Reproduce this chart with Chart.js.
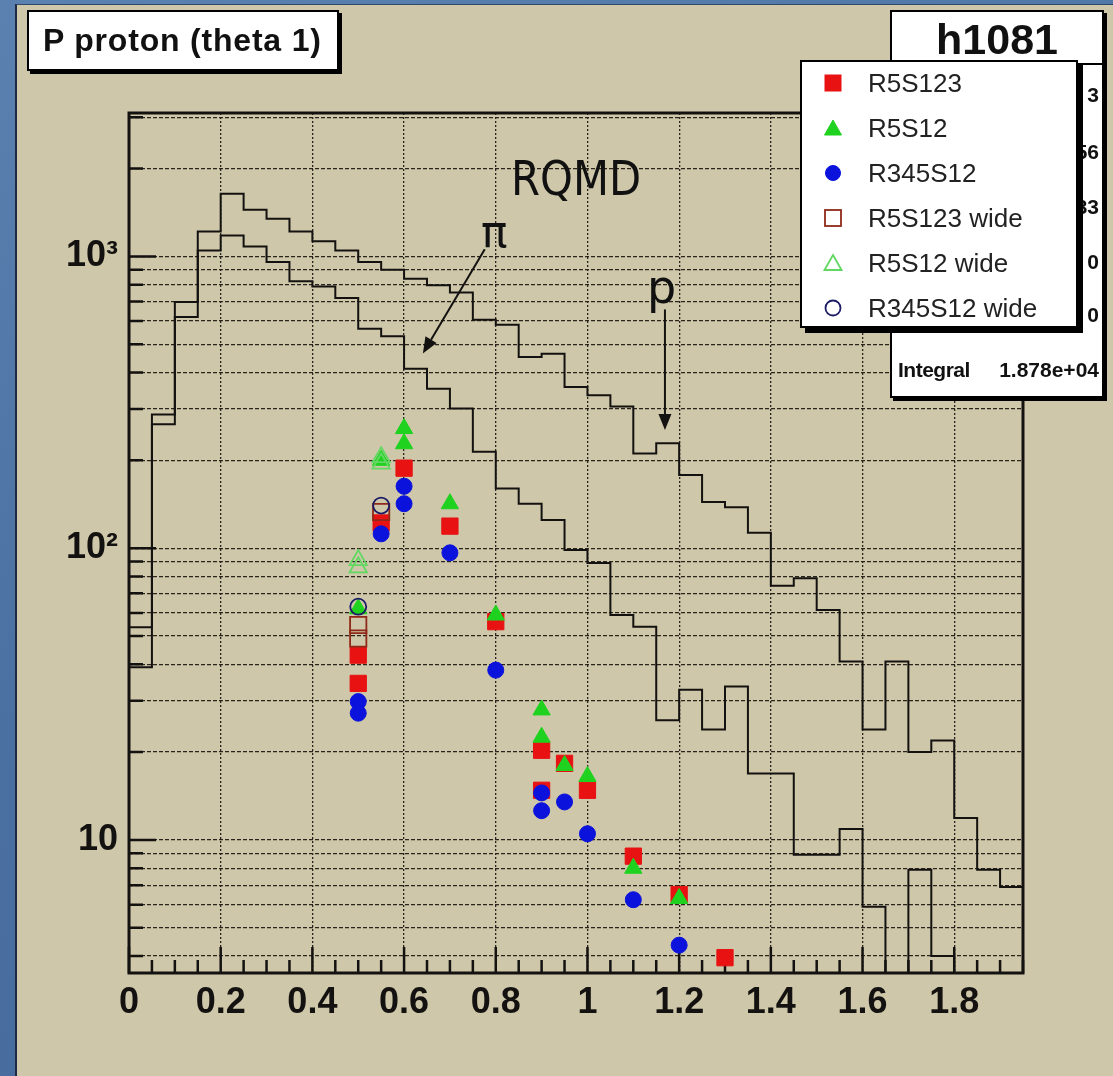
<!DOCTYPE html>
<html>
<head>
<meta charset="utf-8">
<title>P proton (theta 1)</title>
<script src="https://cdn.jsdelivr.net/npm/chart.js@4.4.1/dist/chart.umd.min.js"></script>
<style>
html,body{margin:0;padding:0;}
body{width:1113px;height:1076px;position:relative;overflow:hidden;
  background:linear-gradient(160deg,#5b81b1 0%,#4a70a1 50%,#44699a 100%);
  font-family:"Liberation Sans",Arial,Helvetica,sans-serif;}
#panel{position:absolute;left:15px;top:4px;right:0;bottom:0;background:#cec7a9;
  border-left:2px solid #1e2a44;border-top:1px solid #33476b;}
canvas{position:absolute;left:0;top:0;}
.box{position:absolute;background:#fff;border:2px solid #000;box-sizing:border-box;color:#111;}
#title{left:27px;top:10px;width:312px;height:61px;box-shadow:3px 3px 0 #000;
  font-weight:bold;font-size:32px;line-height:57px;padding-left:14px;letter-spacing:0.8px;white-space:nowrap;}
#stats{left:890px;top:10px;width:214px;height:388px;box-shadow:3px 3px 0 #000;}
#stats .hd{position:absolute;left:0;right:0;top:0;height:51px;border-bottom:2px solid #000;
  text-align:center;font-weight:bold;font-size:43px;line-height:54px;}
#stats .v{position:absolute;right:3px;font-weight:bold;font-size:21px;line-height:24px;white-space:nowrap;}
#stats .k{position:absolute;left:6px;font-weight:bold;font-size:21px;line-height:24px;letter-spacing:-0.5px;}
#legend{left:800px;top:60px;width:278px;height:268px;box-shadow:5px 5px 0 #000;}
.row{position:absolute;left:0;width:270px;height:40px;}
.row svg{position:absolute;left:21px;top:10px;}
.row span{position:absolute;left:66px;top:0;font-size:26px;line-height:40px;color:#222;white-space:nowrap;}
.note{position:absolute;font-family:"DejaVu Sans",Verdana,sans-serif;color:#111;line-height:1;white-space:nowrap;}
#rqmd{left:511px;top:154px;font-size:48px;transform:scaleX(0.87);transform-origin:0 0;}
#pi{left:481px;top:210px;font-size:44px;}
#pp{left:647px;top:264px;font-size:46px;}
</style>
</head>
<body>
<div id="panel"></div>
<canvas id="c" width="1113" height="1076"></canvas>
<div class="note" id="rqmd">RQMD</div>
<div class="note" id="pi">π</div>
<div class="note" id="pp">p</div>
<div class="box" id="title">P proton (theta 1)</div>
<div class="box" id="stats">
  <div class="hd">h1081</div>
  <div class="v" style="top:71px">3</div>
  <div class="v" style="top:128px">56</div>
  <div class="v" style="top:183px">33</div>
  <div class="v" style="top:238px">0</div>
  <div class="v" style="top:291px">0</div>
  <div class="k" style="top:346px">Integral</div>
  <div class="v" style="top:346px">1.878e+04</div>
</div>
<div class="box" id="legend"></div>
<script>
// ---------------------------
// DATA
// ---------------------------
// histogram bin edges (0.05 wide)
const BIN_EDGES = [0, 0.05, 0.1, 0.15, 0.2, 0.25, 0.3, 0.35, 0.4, 0.45,
  0.5, 0.55, 0.6, 0.65, 0.7, 0.75, 0.8, 0.85, 0.9, 0.95,
  1.0, 1.05, 1.1, 1.15, 1.2, 1.25, 1.3, 1.35, 1.4, 1.45,
  1.5, 1.55, 1.6, 1.65, 1.7, 1.75, 1.8, 1.85, 1.9, 1.95];

// RQMD histograms (counts per bin)
const RQMD_P = [53.6, 287, 697, 1218, 1639, 1445, 1346, 1218, 1126, 1048,
  956, 900, 838, 796, 752, 607, 583, 452, 464, 357,
  334, 306, 211, 229, 178, 144, 138, 113, 74.3, 78.9,
  61.4, 40.9, 23.9, 40.9, 20.0, 21.9, 11.9, 7.9, 6.9];
const RQMD_PI = [39.1, 266, 620, 1048, 1180, 1082, 956, 821, 789, 720,
  565, 532, 412, 352, 301, 214, 160, 142, 125, 98.5,
  89, 59, 53.8, 25.7, 32.7, 23.9, 33.6, 16.9, 16.9, 8.9,
  8.9, 10.9, 5.9, 0, 7.9, 4.0, 0, 0, 0];

// measured points
const R5S123_X = [0.5, 0.5, 0.55, 0.6, 0.7, 0.8, 0.9, 0.9, 0.95, 1.0, 1.1, 1.2, 1.3];
const R5S123_Y = [43, 34.4, 122, 188, 119, 56, 20.3, 14.8, 18.3, 14.8, 8.8, 6.5, 3.95];
const R5S12_X = [0.5, 0.55, 0.6, 0.6, 0.7, 0.8, 0.9, 0.9, 0.95, 1.0, 1.1, 1.2];
const R5S12_Y = [62, 200, 257, 228, 142, 59, 27.9, 22.5, 18, 16.5, 8.0, 6.3];
const R345S12_X = [0.5, 0.5, 0.55, 0.6, 0.6, 0.7, 0.8, 0.9, 0.9, 0.95, 1.0, 1.1, 1.2];
const R345S12_Y = [29.8, 27.2, 112, 163, 142, 96.4, 38.2, 14.5, 12.6, 13.5, 10.5, 6.24, 4.36];
const R5S123W_X = [0.5, 0.5, 0.55];
const R5S123W_Y = [54.5, 49, 133];
const R5S12W_X = [0.5, 0.5, 0.55, 0.55];
const R5S12W_Y = [91, 86, 205, 195];
const R345S12W_X = [0.5, 0.55];
const R345S12W_Y = [63, 140];

const SERIES_NAMES = ["R5S123", "R5S12", "R345S12", "R5S123 wide", "R5S12 wide", "R345S12 wide"];

// axes
const X_TICKS = [0, 0.2, 0.4, 0.6, 0.8, 1.0, 1.2, 1.4, 1.6, 1.8];
const X_TICK_LABELS = ["0", "0.2", "0.4", "0.6", "0.8", "1", "1.2", "1.4", "1.6", "1.8"];
const Y_MIN = 3.5, Y_MAX = 3100;
const Y_GRID = [4, 5, 6, 7, 8, 9, 10, 20, 30, 40, 50, 60, 70, 80, 90,
  100, 200, 300, 400, 500, 600, 700, 800, 900, 1000, 2000, 3000];
const Y_LABEL_VALUES = [10, 100, 1000];
const Y_LABEL_TEXT = ["10", "10\u00B2", "10\u00B3"];

// arrows of the annotation (data coords: [x, y])
const ARROW_PI = [[0.776, 1057], [0.641, 465]];
const ARROW_P = [[1.169, 658], [1.169, 254]];

// ---------------------------
// STYLES
// ---------------------------
const ROOT_FONT = '"Liberation Sans", Arial, Helvetica, sans-serif';
const INK = "#141210";
const STYLES = [
  { shape:"rect",     radius:11.5, fill:"#e81212", stroke:"#e81212", width:1 },
  { shape:"triangle", radius:10,   fill:"#1fd21f", stroke:"#1fd21f", width:1 },
  { shape:"circle",   radius:8,    fill:"#0b12dc", stroke:"#0b12dc", width:1 },
  { shape:"rect",     radius:11.5, fill:"rgba(0,0,0,0)", stroke:"#8f2a18", width:1.8 },
  { shape:"triangle", radius:10,   fill:"rgba(0,0,0,0)", stroke:"#62d862", width:1.8 },
  { shape:"circle",   radius:8,    fill:"rgba(0,0,0,0)", stroke:"#1c1c66", width:1.8 },
];

// ---------------------------
// HELPERS
// ---------------------------
// empty bins sit on the axis floor, like ROOT draws them on a log scale
function stepPoints(values){
  const pts = values.map((v,i)=>({x:BIN_EDGES[i], y:Math.max(v, Y_MIN)}));
  pts.push({x:BIN_EDGES[values.length], y:Math.max(values[values.length-1], Y_MIN)});
  return pts;
}
function pairs(xs, ys){ return xs.map((x,i)=>({x:x, y:ys[i]})); }

function drawArrow(ctx, x1, y1, x2, y2){
  const ang = Math.atan2(y2-y1, x2-x1), L = 16, W = 6.5;
  const bx = x2 - L*Math.cos(ang), by = y2 - L*Math.sin(ang);
  ctx.beginPath(); ctx.moveTo(x1,y1); ctx.lineTo(bx,by); ctx.stroke();
  ctx.beginPath();
  ctx.moveTo(x2,y2);
  ctx.lineTo(bx + W*Math.sin(ang), by - W*Math.cos(ang));
  ctx.lineTo(bx - W*Math.sin(ang), by + W*Math.cos(ang));
  ctx.closePath(); ctx.fill();
}

// ROOT-like frame with inner tick marks + annotation arrows
const rootFrame = {
  id:"rootFrame",
  beforeDatasetsDraw(chart){
    const {ctx, chartArea:a, scales:{x, y}} = chart;
    ctx.save();
    ctx.strokeStyle = INK; ctx.lineWidth = 2.5;
    ctx.beginPath();
    Y_GRID.forEach(v=>{
      const py = y.getPixelForValue(v);
      const len = Y_LABEL_VALUES.includes(v) ? 27 : 14;
      ctx.moveTo(a.left, py); ctx.lineTo(a.left+len, py);
    });
    BIN_EDGES.forEach(v=>{
      const px = x.getPixelForValue(v);
      const len = X_TICKS.some(t=>Math.abs(t-v)<1e-6) ? 26 : 13;
      ctx.moveTo(px, a.bottom); ctx.lineTo(px, a.bottom-len);
    });
    ctx.stroke();
    ctx.restore();
  },
  afterDatasetsDraw(chart){
    const {ctx, chartArea:a} = chart;
    ctx.save();
    ctx.strokeStyle = INK; ctx.lineWidth = 3;
    ctx.strokeRect(a.left, a.top, a.right-a.left, a.bottom-a.top);
    ctx.restore();
  },
  afterDraw(chart){
    const {ctx, scales:{x, y}} = chart;
    ctx.save();
    ctx.strokeStyle = INK; ctx.fillStyle = INK; ctx.lineWidth = 2;
    [ARROW_PI, ARROW_P].forEach(([f,t])=>{
      drawArrow(ctx, x.getPixelForValue(f[0]), y.getPixelForValue(f[1]),
                     x.getPixelForValue(t[0]), y.getPixelForValue(t[1]));
    });
    ctx.restore();
  }
};

// ---------------------------
// CHART
// ---------------------------
const histStyle = { type:"line", stepped:"before", borderColor:INK, borderWidth:2,
  pointRadius:0, fill:false, order:10 };

const seriesData = [
  pairs(R5S123_X, R5S123_Y), pairs(R5S12_X, R5S12_Y), pairs(R345S12_X, R345S12_Y),
  pairs(R5S123W_X, R5S123W_Y), pairs(R5S12W_X, R5S12W_Y), pairs(R345S12W_X, R345S12W_Y)
];

const datasets = [
  Object.assign({ label:"RQMD p", data:stepPoints(RQMD_P) }, histStyle),
  Object.assign({ label:"RQMD pi", data:stepPoints(RQMD_PI) }, histStyle),
].concat(seriesData.map((d,i)=>({
  type:"line", label:SERIES_NAMES[i], data:d, showLine:false,
  pointStyle:STYLES[i].shape, pointRadius:STYLES[i].radius,
  pointBackgroundColor:STYLES[i].fill, pointBorderColor:STYLES[i].stroke,
  pointBorderWidth:STYLES[i].width, order:6-i
})));

new Chart(document.getElementById("c"), {
  type:"line",
  data:{ datasets },
  options:{
    responsive:false, animation:false, devicePixelRatio:1,
    layout:{ padding:{ left:0, top:113, right:90, bottom:0 } },
    plugins:{ legend:{ display:false }, tooltip:{ enabled:false } },
    scales:{
      x:{
        type:"linear", min:0, max:1.95,
        afterFit(s){ s.height = 103; },
        afterBuildTicks(s){ s.ticks = X_TICKS.map(v=>({value:v})); },
        ticks:{ autoSkip:false, maxRotation:0, padding:8, color:INK,
          font:{ family:ROOT_FONT, size:36, weight:"bold" },
          callback:(v,i)=>X_TICK_LABELS[i] },
        grid:{ color:"#2a241c", lineWidth:1.3, drawTicks:false },
        border:{ display:false, dash:[2,2] }
      },
      y:{
        type:"logarithmic", min:Y_MIN, max:Y_MAX,
        afterFit(s){ s.width = 129; },
        afterBuildTicks(s){ s.ticks = Y_GRID.map(v=>({value:v})); },
        ticks:{ autoSkip:false, padding:11, color:INK,
          font:{ family:ROOT_FONT, size:36, weight:"bold" },
          callback:(v)=>{ const k = Y_LABEL_VALUES.indexOf(v); return k>=0 ? Y_LABEL_TEXT[k] : ""; } },
        grid:{ color:"#2a241c", lineWidth:1.3, drawTicks:false },
        border:{ display:false, dash:[4,2] }
      }
    }
  },
  plugins:[rootFrame]
});

// ---------------------------
// LEGEND (html)
// ---------------------------
function markerSvg(st){
  const f = st.fill, s = st.stroke, w = st.width;
  let shape;
  if(st.shape==="rect") shape = `<rect x="2" y="2" width="16" height="16" fill="${f}" stroke="${s}" stroke-width="${w}"/>`;
  else if(st.shape==="triangle") shape = `<polygon points="10,2 18.5,17 1.5,17" fill="${f}" stroke="${s}" stroke-width="${w}"/>`;
  else shape = `<circle cx="10" cy="10" r="7.5" fill="${f}" stroke="${s}" stroke-width="${w}"/>`;
  return `<svg width="20" height="20" viewBox="0 0 20 20">${shape}</svg>`;
}
document.getElementById("legend").innerHTML = SERIES_NAMES.map((n,i)=>
  `<div class="row" style="top:${1+45*i}px">${markerSvg(STYLES[i])}<span>${n}</span></div>`
).join("");
</script>
</body>
</html>
